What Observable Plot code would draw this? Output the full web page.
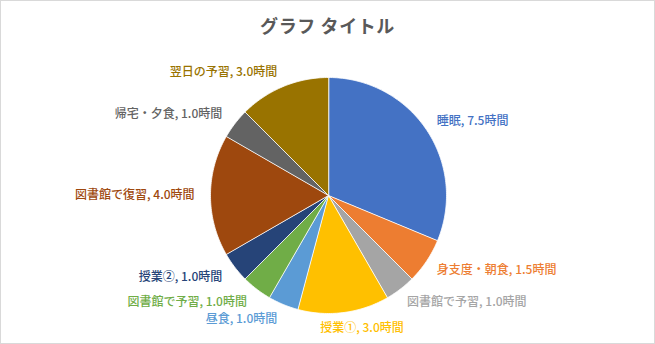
<!DOCTYPE html>
<html>
<head>
<meta charset="utf-8">
<script src="https://cdn.jsdelivr.net/npm/d3@7"></script>
<script src="https://cdn.jsdelivr.net/npm/@observablehq/plot@0.6"></script>
<style>
  html, body { margin: 0; padding: 0; background: #fff; }
  #chart { position: relative; width: 655px; height: 344px; box-sizing: border-box; border: 1px solid #d9d9d9; overflow: hidden; }
  #title { height: 39px; text-align: center; font-family: "Noto Sans CJK JP", sans-serif; font-weight: bold; font-size: 18px; letter-spacing: 0.6px; line-height: 24px; color: #595959; box-sizing: border-box; padding-top: 12px; }
  svg { display: block; }
</style>
</head>
<body>
<div id="chart"><div id="title">グラフ タイトル</div></div>
<script>
const categories = ["睡眠", "身支度・朝食", "図書館で予習", "授業①", "昼食", "図書館で予習", "授業②", "図書館で復習", "帰宅・夕食", "翌日の予習"];
const hours = [7.5, 1.5, 1.0, 3.0, 1.0, 1.0, 1.0, 4.0, 1.0, 3.0];
const colors = ["#4472C4", "#ED7D31", "#A5A5A5", "#FFC000", "#5B9BD5", "#70AD47", "#264478", "#9E480E", "#636363", "#997300"];
const unit = "時間";

const total = d3.sum(hours);
const slices = [];
let acc = 0;
hours.forEach((h, i) => {
  const a0 = acc / total * 2 * Math.PI;
  acc += h;
  const a1 = acc / total * 2 * Math.PI;
  slices.push({i, cat: categories[i], h, a0, a1, mid: (a0 + a1) / 2, color: colors[i]});
});

// outline points of each wedge (geometry derived from the values)
const pts = [];
for (const s of slices) {
  pts.push({i: s.i, x: 0, y: 0, color: s.color});
  const n = Math.max(2, Math.ceil((s.a1 - s.a0) / (Math.PI / 180)));
  for (let k = 0; k <= n; k++) {
    const a = s.a0 + (s.a1 - s.a0) * k / n;
    pts.push({i: s.i, x: Math.sin(a), y: Math.cos(a), color: s.color});
  }
}

const LR = 1.135;
const labels = slices.map(s => {
  const sx = Math.sin(s.mid), cy = Math.cos(s.mid);
  return {
    x: LR * sx, y: LR * cy,
    text: `${s.cat}, ${s.h.toFixed(1)}${unit}`,
    color: s.color,
    side: Math.abs(sx) < 0.3 ? "middle" : (sx > 0 ? "start" : "end")
  };
});

const textOpts = {x: "x", y: "y", text: "text", fill: "color", fontSize: 12, fontWeight: 500, fontFamily: "Noto Sans CJK JP, sans-serif"};

const plot = Plot.plot({
  width: 653,
  height: 303,
  marginLeft: 209,
  marginRight: 208,
  marginTop: 37,
  marginBottom: 30,
  x: {domain: [-1, 1], axis: null},
  y: {domain: [-1, 1], axis: null},
  color: {type: "identity"},
  style: {background: "transparent", overflow: "visible"},
  marks: [
    Plot.line(pts, {x: "x", y: "y", z: "i", fill: "color", stroke: "#ffffff", strokeWidth: 0.8, curve: "linear-closed"}),
    Plot.text(labels.filter(d => d.side === "start"), {...textOpts, textAnchor: "start", dx: -3}),
    Plot.text(labels.filter(d => d.side === "end"), {...textOpts, textAnchor: "end"}),
    Plot.text(labels.filter(d => d.side === "middle"), {...textOpts, textAnchor: "middle", dx: 16})
  ]
});
document.getElementById("chart").appendChild(plot);
</script>
</body>
</html>
